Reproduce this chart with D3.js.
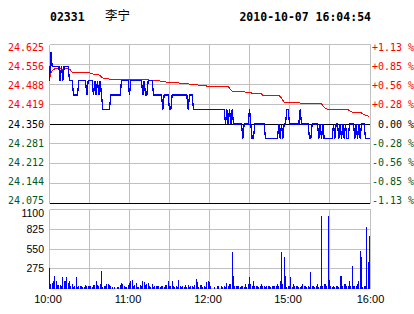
<!DOCTYPE html>
<html><head><meta charset="utf-8">
<script src="https://cdn.jsdelivr.net/npm/d3@7"></script>
<style>body{margin:0;background:#fff}svg{display:block}</style>
</head><body><svg id="c" width="414" height="314"></svg>
<script>
const stockCode = "02331", stockName = "李宁", stamp = "2010-10-07 16:04:54";
const timeTicks = [0, 60, 120, 180, 240];
const timeLabels = ["10:00", "11:00", "12:00", "15:00", "16:00"];
const gridMinutes = [30, 60, 90, 120, 150, 180, 210];
const priceTicks = [24.625, 24.556, 24.488, 24.419, 24.350, 24.281, 24.212, 24.144, 24.075];
const pctLabels = ["+1.13 %", "+0.85 %", "+0.56 %", "+0.28 %", " 0.00 %", "-0.28 %", "-0.56 %", "-0.85 %", "-1.13 %"];
const volTicks = [1100, 825, 550, 275];
const prevClose = 24.35;

// last price per minute (0 = 10:00 ... 240 = 16:00)
const price = [
 24.50,24.60,24.55,24.55,24.55,24.55,24.55,24.55,24.50,24.55,
 24.50,24.55,24.55,24.55,24.55,24.50,24.50,24.50,24.45,24.45,
 24.45,24.45,24.50,24.50,24.50,24.50,24.50,24.50,24.45,24.50,
 24.50,24.50,24.50,24.45,24.50,24.45,24.50,24.45,24.50,24.45,
 24.40,24.40,24.40,24.40,24.40,24.40,24.45,24.45,24.45,24.45,
 24.45,24.45,24.45,24.45,24.50,24.50,24.50,24.50,24.50,24.50,
 24.45,24.50,24.50,24.50,24.50,24.50,24.50,24.50,24.50,24.50,
 24.45,24.50,24.45,24.45,24.50,24.50,24.50,24.50,24.45,24.45,
 24.45,24.45,24.45,24.45,24.45,24.40,24.45,24.45,24.45,24.45,
 24.40,24.40,24.45,24.45,24.45,24.45,24.45,24.45,24.45,24.45,
 24.45,24.45,24.45,24.45,24.40,24.45,24.45,24.45,24.40,24.40,
 24.40,24.40,24.40,24.40,24.40,24.40,24.40,24.40,24.40,24.40,
 24.40,24.40,24.40,24.40,24.40,24.40,24.40,24.40,24.40,24.40,
 24.40,24.40,24.35,24.40,24.35,24.40,24.35,24.40,24.35,24.35,
 24.35,24.35,24.35,24.35,24.35,24.30,24.35,24.35,24.35,24.35,
 24.40,24.35,24.30,24.30,24.35,24.35,24.35,24.35,24.35,24.35,
 24.35,24.35,24.30,24.30,24.30,24.30,24.30,24.30,24.30,24.30,
 24.30,24.30,24.35,24.30,24.35,24.30,24.35,24.35,24.40,24.40,
 24.35,24.35,24.35,24.35,24.35,24.35,24.35,24.35,24.40,24.35,
 24.35,24.35,24.35,24.35,24.35,24.30,24.30,24.35,24.35,24.35,
 24.35,24.35,24.30,24.35,24.30,24.35,24.30,24.30,24.30,24.30,
 24.30,24.30,24.30,24.35,24.30,24.35,24.35,24.30,24.35,24.30,
 24.35,24.30,24.35,24.30,24.30,24.35,24.35,24.35,24.35,24.30,
 24.35,24.30,24.35,24.30,24.35,24.35,24.35,24.30,24.30,24.30,
 24.30
];

// average price line, read at its turning points
const avgMin = [0,1,2,4,8,10,12,15,16,17,30,32,34,38,39,41,60,74,75,82,84,94,95,104,105,110,112,117,118,
  119,134,137,146,147,151,152,159,160,172,174,176,187,189,204,206,209,224,227,233,235,237,240];
const avgVal = [24.505,24.525,24.535,24.541,24.541,24.538,24.541,24.540,24.535,24.528,24.527,24.524,24.521,24.519,24.512,24.506,24.504,24.503,24.501,24.500,24.496,24.494,24.492,24.491,24.487,24.486,24.484,24.483,24.481,
  24.481,24.479,24.464,24.464,24.460,24.460,24.454,24.454,24.449,24.449,24.440,24.425,24.425,24.420,24.420,24.408,24.399,24.399,24.391,24.391,24.385,24.380,24.376];

// volume per minute
const volume = [
 290,65,70,111,180,102,42,51,45,40,
 167,111,100,167,74,102,37,65,20,28,
 158,25,28,28,28,20,20,42,28,28,
 28,35,25,42,46,102,42,30,56,250,
 20,28,40,56,56,42,28,15,0,15,
 0,20,15,42,79,56,28,20,20,42,
 74,111,120,30,42,79,20,20,42,30,
 111,88,42,65,79,28,25,65,20,28,
 28,28,37,20,28,37,20,42,42,111,
 28,30,102,37,20,28,25,120,28,15,
 28,20,42,25,42,20,28,37,25,42,
 139,88,20,42,51,20,28,25,88,102,
 97,32,0,0,15,0,32,32,0,28,
 15,32,25,74,40,56,65,506,172,40,
 40,32,28,20,28,32,20,56,25,65,
 158,65,40,111,32,40,32,20,28,56,
 32,28,20,28,40,40,20,32,28,40,
 30,65,40,111,506,60,436,181,20,28,
 28,158,20,56,40,32,40,15,15,28,
 56,40,32,20,40,25,227,32,40,20,
 28,56,25,40,1007,40,56,56,40,1007,
 125,40,20,40,20,40,32,25,172,172,
 30,65,56,40,30,111,40,320,40,40,
 30,65,111,529,436,20,28,28,854,367,
 728
];

const svg = d3.select("#c");
const L = 49.5, R = 370.5;
const x = d3.scaleLinear().domain([0, 240]).range([49.5, 369.5]);
const yP = d3.scaleLinear().domain([24.075, 24.625]).range([203.5, 44.5]);
const yV = d3.scaleLinear().domain([0, 1100]).range([288.5, 209.5]);
const GRID = "#c0c0c0", RED = "#ff0000", GREEN = "#005a1e", BLUE = "#0000ff";
const mono = "'DejaVu Sans Mono', monospace";
const sans = "'Liberation Sans', Arial, sans-serif";

// title
svg.append("text").attr("x", 50).attr("y", 20.5).attr("font-family", mono).attr("font-weight", "bold")
  .attr("font-size", 11.5).text(stockCode);
svg.append("text").attr("x", 105).attr("y", 19.5).attr("font-family", "'Noto Sans CJK SC', sans-serif")
  .attr("font-size", 12.5).text(stockName);
svg.append("text").attr("x", 371).attr("y", 20.5).attr("text-anchor", "end").attr("font-family", mono)
  .attr("font-weight", "bold").attr("font-size", 11.5).text(stamp);

const g = svg.append("g").attr("shape-rendering", "crispEdges");

// price panel grid
g.selectAll(".vgp").data(gridMinutes).join("line")
  .attr("x1", d => x(d)).attr("x2", d => x(d)).attr("y1", yP(24.625)).attr("y2", yP(24.075))
  .attr("stroke", GRID);
g.selectAll(".hgp").data(priceTicks).join("line")
  .attr("x1", L).attr("x2", R).attr("y1", d => yP(d)).attr("y2", d => yP(d))
  .attr("stroke", (d, i) => (i === 4 || i === 8) ? "#000" : GRID);
g.append("line").attr("x1", L).attr("x2", L).attr("y1", yP(24.625)).attr("y2", yP(24.075)).attr("stroke", GRID);
g.append("line").attr("x1", R).attr("x2", R).attr("y1", yP(24.625)).attr("y2", yP(24.075)).attr("stroke", GRID);

// volume panel grid
g.selectAll(".vgv").data(gridMinutes).join("line")
  .attr("x1", d => x(d)).attr("x2", d => x(d)).attr("y1", yV(1100)).attr("y2", yV(0))
  .attr("stroke", GRID);
g.selectAll(".hgv").data([1100, 825, 550, 275, 0]).join("line")
  .attr("x1", L).attr("x2", R).attr("y1", d => yV(d)).attr("y2", d => yV(d)).attr("stroke", GRID);
g.append("line").attr("x1", L).attr("x2", L).attr("y1", yV(1100)).attr("y2", yV(0)).attr("stroke", GRID);
g.append("line").attr("x1", R).attr("x2", R).attr("y1", yV(1100)).attr("y2", yV(0)).attr("stroke", GRID);

// volume bars
g.selectAll(".bar").data(volume).join("rect")
  .attr("x", (d, i) => Math.floor(x(i))).attr("width", 1)
  .attr("y", d => yV(d)).attr("height", d => yV(0) - yV(d))
  .attr("fill", BLUE);

// average line
const avgPts = avgMin.map((m, i) => [m, avgVal[i]]);
svg.append("path").datum(avgPts)
  .attr("d", d3.line().x(d => x(d[0])).y(d => yP(d[1])))
  .attr("fill", "none").attr("stroke", RED).attr("stroke-width", 1).attr("shape-rendering", "crispEdges");

// price line
svg.append("path").datum(price)
  .attr("d", d3.line().x((d, i) => x(i)).y(d => yP(d)))
  .attr("fill", "none").attr("stroke", BLUE).attr("stroke-width", 1.3).attr("shape-rendering", "crispEdges");

// left price labels
const labY = t => 124 + (yP(t) - 124) * 0.965 + 3.6;
const col = (t) => t > prevClose + 1e-9 ? RED : (t < prevClose - 1e-9 ? GREEN : "#000");
svg.selectAll(".pl").data(priceTicks).join("text")
  .attr("x", 44).attr("y", d => labY(d)).attr("text-anchor", "end")
  .attr("font-family", mono).attr("font-size", 10).attr("fill", col)
  .text(d => d.toFixed(3));
svg.selectAll(".pr").data(priceTicks).join("text")
  .attr("x", 372).attr("y", d => labY(d)).attr("text-anchor", "start")
  .attr("font-family", mono).attr("font-size", 10).attr("fill", col)
  .attr("xml:space", "preserve").style("white-space", "pre")
  .text((d, i) => pctLabels[i]);

// volume labels
svg.selectAll(".vl").data(volTicks).join("text")
  .attr("x", 44).attr("y", d => Math.max(yV(d), 213.5) + 3.6).attr("text-anchor", "end")
  .attr("font-family", sans).attr("font-size", 10.5).attr("fill", "#000")
  .text(d => d);

// time labels
svg.selectAll(".tl").data(timeTicks).join("text")
  .attr("x", (d, i) => x(d) - (i === timeTicks.length - 1 ? -1 : 1.5)).attr("y", 303)
  .attr("text-anchor", "middle").attr("font-family", sans).attr("font-size", 11).attr("fill", "#000")
  .text((d, i) => timeLabels[i]);
</script>
</body></html>
